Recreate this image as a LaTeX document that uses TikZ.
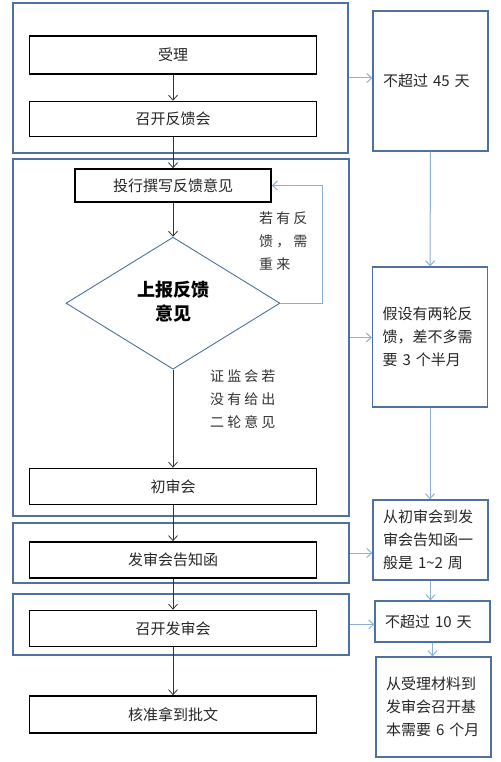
\documentclass[tikz,border=0pt]{standalone}
\usepackage{fontspec}
\setmainfont{Noto Sans CJK SC}
\newfontfamily\spacedcjk{Noto Sans CJK SC}[LetterSpace=22]
\usepackage{tikz}
\usetikzlibrary{arrows.meta,shapes,positioning,fit}
\definecolor{frameblue}{RGB}{79,113,160}
\definecolor{arrowblue}{RGB}{141,176,215}

\begin{document}
\begin{tikzpicture}[x=1pt,y=1pt,>={Straight Barb[length=5pt,width=9pt]}]
  \tikzstyle{stepbox}=[rectangle, draw, line width=1.5pt, minimum width=287pt, minimum height=36pt,
                       text=black!85, font=\fontsize{15}{18}\selectfont]
  \tikzstyle{decision}=[diamond, draw=frameblue, line width=0.9pt, aspect=1.62, inner sep=0pt,
                        minimum width=214pt, minimum height=132pt, font=\fontsize{18}{24}\selectfont\bfseries]
  \tikzstyle{group}=[rectangle, draw=frameblue, line width=1.2pt, inner sep=0pt]
  \tikzstyle{note}=[rectangle, draw=frameblue, line width=1.2pt, text width=95pt, inner xsep=10pt,
                    align=left, text=black!85, font=\fontsize{15}{23}\selectfont]
  \tikzstyle{sidelabel}=[inner sep=0pt, align=left, text=black!80, font=\spacedcjk\fontsize{14}{23}\selectfont]
  \tikzstyle{flow}=[->, draw=black!80, line width=0.8pt]
  \tikzstyle{timeline}=[->, draw=arrowblue, line width=1pt]
  \fill[white] (0,0) rectangle (500,-762);
  \useasboundingbox (0,0) rectangle (500,-762);
  % main steps
  \node[stepbox, minimum height=38pt] (Accept) at (173,-55) {受理};
  \node[stepbox, below=26pt of Accept, minimum height=35pt] (Feedback Meeting) {召开反馈会};
  \node[stepbox, below=31pt of Feedback Meeting, minimum width=196pt, minimum height=33pt] (Draft) {投行撰写反馈意见};
  \node[decision, below=34pt of Draft] (Report) {\begin{tabular}{c}上报反馈\\意见\end{tabular}};
  \node[stepbox, below=98pt of Report] (First Review) {初审会};
  \node[stepbox, below=36pt of First Review] (Notice) {发审会告知函};
  \node[stepbox, below=31pt of Notice] (Issue Meeting) {召开发审会};
  \node[stepbox, below=48pt of Issue Meeting, minimum height=37pt] (Approval) {核准拿到批文};
  % stage frames
  \node[group, fit={(13,-3) (348,-153)}] (Stage One) {};
  \node[group, fit={(13,-159) (349,-516)}] (Stage Two) {};
  \node[group, fit={(13,-523) (349,-583)}] (Stage Three) {};
  \node[group, fit={(13,-594) (349,-655)}] (Stage Four) {};
  % time notes
  \node[note, minimum height=140pt] (Note One) at (430.5,-81) {不超过 45 天};
  \node[note, minimum height=140pt] (Note Two) at (430,-337) {假设有两轮反\\馈，差不多需\\要 3 个半月};
  \node[note, minimum height=80pt] (Note Three) at (430.5,-540) {从初审会到发\\审会告知函一\\般是 1\textasciitilde 2 周};
  \node[note, minimum height=41pt] (Note Four) at (432.5,-621.5) {不超过 10 天};
  \node[note, minimum height=100pt] (Note Five) at (433.5,-707) {从受理材料到\\发审会召开基\\本需要 6 个月};
  % labels
  \node[sidelabel, anchor=north west] (Redo Label) at (259,-212) {若有反\\馈，需\\重来};
  \node[sidelabel, anchor=north west] (Pass Label) at (210,-370) {证监会若\\没有给出\\二轮意见};
  \draw[flow] (Accept) -- (Feedback Meeting);
  \draw[flow] (Feedback Meeting) -- (Draft);
  \draw[flow] (Draft) -- (Report);
  \draw[flow] (Report) -- (First Review);
  \draw[flow] (First Review) -- (Notice);
  \draw[flow] (Notice) -- (Issue Meeting);
  \draw[flow] (Issue Meeting) -- (Approval);
  \draw[timeline] (Report.east) -- ++(42,0) |- (Draft.east);
  \draw[timeline] (Stage One.east) -- (Stage One.east -| Note One.west);
  \draw[timeline] (Stage Two.east) -- (Stage Two.east -| Note Two.west);
  \draw[timeline] (Stage Three.east) -- (Stage Three.east -| Note Three.west);
  \draw[timeline] (Stage Four.east) -- (Stage Four.east -| Note Four.west);
  \draw[timeline] (Note One) -- (Note Two);
  \draw[timeline] (Note Two.south) -- (Note Two.south |- Note Three.north);
  \draw[timeline] (Note Three.south) -- (Note Three.south |- Note Four.north);
  \draw[timeline] (Note Four.south) -- (Note Four.south |- Note Five.north);
\end{tikzpicture}
\end{document}
